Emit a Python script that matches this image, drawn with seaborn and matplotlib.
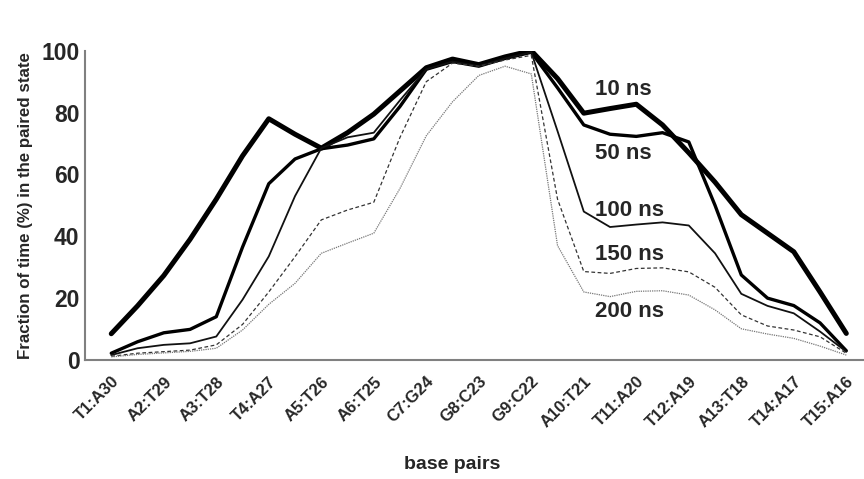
import numpy as np
import pandas as pd
import matplotlib
matplotlib.use("Agg")
import matplotlib.pyplot as plt
import seaborn as sns

categories = ["T1:A30", "A2:T29", "A3:T28", "T4:A27", "A5:T26", "A6:T25", "C7:G24",
              "G8:C23", "G9:C22", "A10:T21", "T11:A20", "T12:A19", "A13:T18", "T14:A17", "T15:A16"]

# values read at every half base-pair step (0, 0.5, 1, ... 14)
ns10 = [8.5, 17.5, 27.3, 39, 52, 66, 78, 73, 68.5, 73.5, 79.5, 87, 94.5, 97.3, 95.5,
        98, 100, 91, 79.8, 81.3, 82.7, 76, 67, 57.5, 47, 41, 35, 22, 8.6]
ns50 = [2.2, 5.9, 8.8, 9.9, 14, 36.5, 57, 65, 68.3, 69.5, 71.5, 82, 94, 96.5, 95,
        97.5, 99.5, 88, 76, 73, 72.3, 73.5, 70.5, 50, 27.5, 20, 17.6, 12, 3]
ns100 = [1.6, 3.8, 4.9, 5.4, 7.6, 19.5, 33.5, 53, 68.5, 72, 73.5, 84, 94, 96.5, 95,
         97.5, 99.5, 74, 48, 43, 43.8, 44.5, 43.5, 34.5, 21.4, 17.5, 15.1, 9.2, 2.7]
ns150 = [1.2, 2.2, 2.7, 3.2, 4.9, 11.5, 22, 33.4, 45.3, 48.5, 51, 72, 90, 96, 95,
         97, 98.5, 52, 28.6, 28, 29.6, 29.8, 28.5, 23.5, 14.6, 11, 9.7, 7.5, 2.2]
ns200 = [1, 1.8, 2.3, 2.8, 3.8, 9.7, 18, 24.8, 34.5, 37.8, 41, 55.5, 72.5, 83.5, 92,
         95, 92.5, 37, 22, 20.5, 22.2, 22.4, 21, 16.2, 10.1, 8.4, 7, 4.5, 1.6]

series_names = ["10 ns", "50 ns", "100 ns", "150 ns", "200 ns"]
series_vals = [ns10, ns50, ns100, ns150, ns200]

rows = []
for name, vals in zip(series_names, series_vals):
    for k, v in enumerate(vals):
        rows.append({"pos": k / 2.0, "value": v, "series": name})
df = pd.DataFrame(rows)

sns.set_style("white")
plt.rcParams["font.family"] = ["Liberation Sans", "DejaVu Sans"]

fig = plt.figure(figsize=(8.64, 4.79), dpi=100)
ax = fig.add_axes([0.0984, 0.2484, 0.9115, 0.6457])

styles = {
    "10 ns": dict(color="black", linewidth=3.6, linestyle="-"),
    "50 ns": dict(color="black", linewidth=2.4, linestyle="-"),
    "100 ns": dict(color="#111111", linewidth=1.3, linestyle="-"),
    "150 ns": dict(color="#333333", linewidth=0.9, linestyle=(0, (3, 2))),
    "200 ns": dict(color="#777777", linewidth=0.9, linestyle=(0, (1, 0.8))),
}
for name in series_names:
    sub = df[df["series"] == name]
    sns.lineplot(data=sub, x="pos", y="value", ax=ax, legend=False,
                 solid_joinstyle="round", **styles[name])

ax.set_xlim(-0.5, 14.5)
ax.set_ylim(0, 100)
ax.set_yticks([0, 20, 40, 60, 80, 100])
ax.set_yticklabels(["0", "20", "40", "60", "80", "100"], fontsize=16.5, fontweight="bold")
ax.tick_params(axis="y", length=0, pad=4)

ax.set_xticks(np.arange(len(categories) + 1) - 0.5)
ax.set_xticklabels([])
ax.set_xticks(np.arange(len(categories)), minor=True)
ax.set_xticklabels(categories, minor=True, rotation=45, ha="right", va="top",
                   rotation_mode="anchor", fontsize=12, fontweight="bold")
ax.tick_params(axis="x", which="major", length=6, width=1.2, color="#808080", direction="out")
ax.tick_params(axis="x", which="minor", length=0, pad=10)

for side in ["top", "right"]:
    ax.spines[side].set_visible(False)
for side in ["left", "bottom"]:
    ax.spines[side].set_color("#808080")
    ax.spines[side].set_linewidth(1.5)

ax.set_xlabel("base pairs", fontsize=14, fontweight="bold")
ax.xaxis.set_label_coords(0.466, -0.31)
ax.set_ylabel("Fraction of time (%) in the paired state", fontsize=12.2, fontweight="bold", labelpad=6)

label_y = [87.4, 66.8, 48.5, 34, 15.7]
for name, yv in zip(series_names, label_y):
    ax.text(9.22, yv, name, fontsize=16, fontweight="bold", ha="left", va="center")

fig.savefig("out.png", dpi=100)
